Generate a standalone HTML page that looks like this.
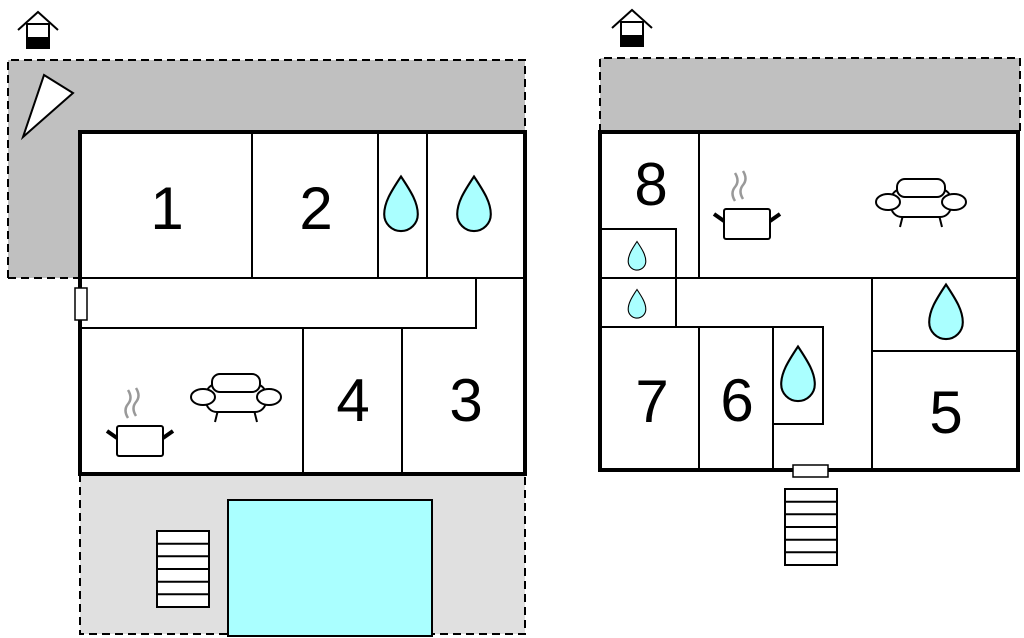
<!DOCTYPE html>
<html><head><style>body{margin:0;background:#fff}svg{display:block}</style></head><body>
<svg width="1024" height="638" viewBox="0 0 1024 638" xmlns="http://www.w3.org/2000/svg" font-family="Liberation Sans, sans-serif">
<defs>
<path id="drop" d="M0,-30 C10,-15 16,-5 16,6 A16,16 0 0 1 -16,6 C-16,-5 -10,-15 0,-30Z" fill="#aaffff" stroke="#000" stroke-width="2"/>
<g id="pot">
<path d="M-12,-22 q-5,-8 0,-14 q5,-6 0,-14 M-4,-24 q-5,-8 0,-14 q5,-6 0,-14" fill="none" stroke="#999" stroke-width="2.5"/>
<rect x="-23" y="-14" width="46" height="30" rx="2" fill="#fff" stroke="#000" stroke-width="2"/>
<path d="M-23,-2 L-33,-9 M23,-2 L33,-9" stroke="#000" stroke-width="4"/>
</g>
<g id="sofa" fill="#fff" stroke="#000" stroke-width="2">
<path d="M-18,16 L-21,28 M18,16 L21,28"/>
<rect x="-30" y="-10" width="60" height="28" rx="11"/>
<rect x="-24" y="-20" width="48" height="18" rx="8"/>
<ellipse cx="-33" cy="3" rx="12" ry="8"/>
<ellipse cx="33" cy="3" rx="12" ry="8"/>
</g>
<g id="stairs" fill="#fff" stroke="#000" stroke-width="2">
<rect x="0" y="0" width="52" height="76"/>
<path d="M0,12.7H52M0,25.3H52M0,38H52M0,50.7H52M0,63.3H52"/>
</g>
<g id="house">
<path d="M0,20 L20,2 L40,20" fill="none" stroke="#000" stroke-width="2"/>
<rect x="9" y="14" width="22" height="24" fill="#fff" stroke="#000" stroke-width="2"/>
<rect x="9" y="27" width="22" height="11" fill="#000"/>
</g>
</defs>

<!-- LEFT PLAN -->
<use href="#house" x="18" y="10"/>
<path d="M8,60 H525 V132 H80 V278 H8Z" fill="#c0c0c0"/>
<path d="M8,278 V60 H525 V132" fill="none" stroke="#000" stroke-width="2" stroke-dasharray="8,5"/>
<path d="M8,278 H80" fill="none" stroke="#000" stroke-width="2" stroke-dasharray="8,5"/>
<polygon points="44,75 73,93 23,137" fill="#fff" stroke="#000" stroke-width="2"/>

<rect x="80" y="474" width="445" height="160" fill="#e0e0e0"/>
<path d="M80,474 V634 H525 V474" fill="none" stroke="#000" stroke-width="2" stroke-dasharray="8,5"/>
<rect x="228" y="500" width="204" height="136" fill="#aaffff" stroke="#000" stroke-width="2"/>
<use href="#stairs" x="157" y="531"/>

<rect x="80" y="132" width="445" height="342" fill="#fff" stroke="#000" stroke-width="4"/>
<g stroke="#000" stroke-width="2" fill="none">
<path d="M80,278 H525 M252,132 V278 M378,132 V278 M427,132 V278"/>
<path d="M80,328 H476 V278"/>
<path d="M303,328 V474 M402,328 V474"/>
</g>
<rect x="75" y="288" width="12" height="32" fill="#fff" stroke="#000" stroke-width="1.5"/>
<g font-size="60" text-anchor="middle">
<text x="167" y="229">1</text>
<text x="316" y="229">2</text>
<text x="353" y="421">4</text>
<text x="466" y="421">3</text>
</g>
<use href="#drop" transform="translate(401,208) scale(1.05)"/>
<use href="#drop" transform="translate(474,208) scale(1.05)"/>
<use href="#pot" x="140" y="440"/>
<use href="#sofa" x="236" y="394"/>

<!-- RIGHT PLAN -->
<use href="#house" x="612" y="8"/>
<rect x="600" y="58" width="420" height="74" fill="#c0c0c0"/>
<path d="M600,132 V58 H1020 V132" fill="none" stroke="#000" stroke-width="2" stroke-dasharray="8,5"/>
<rect x="600" y="132" width="418" height="338" fill="#fff" stroke="#000" stroke-width="4"/>
<g stroke="#000" stroke-width="2" fill="none">
<path d="M699,132 V278 M600,278 H1018 M600,229 H676 V327"/>
<path d="M872,278 V470 M872,351 H1018"/>
<path d="M600,327 H823 V424 H773 M699,327 V470 M773,327 V470"/>
</g>
<rect x="793" y="465" width="35" height="12" fill="#fff" stroke="#000" stroke-width="1.5"/>
<use href="#stairs" x="785" y="489"/>
<g font-size="60" text-anchor="middle">
<text x="651" y="205">8</text>
<text x="652" y="422">7</text>
<text x="737" y="421">6</text>
<text x="946" y="433">5</text>
</g>
<use href="#drop" transform="translate(637,258) scale(0.55)"/>
<use href="#drop" transform="translate(637,306) scale(0.55)"/>
<use href="#drop" transform="translate(946,316) scale(1.05)"/>
<use href="#drop" transform="translate(798,378) scale(1.05)"/>
<use href="#pot" x="747" y="223"/>
<use href="#sofa" x="921" y="199"/>
</svg>
</body></html>
